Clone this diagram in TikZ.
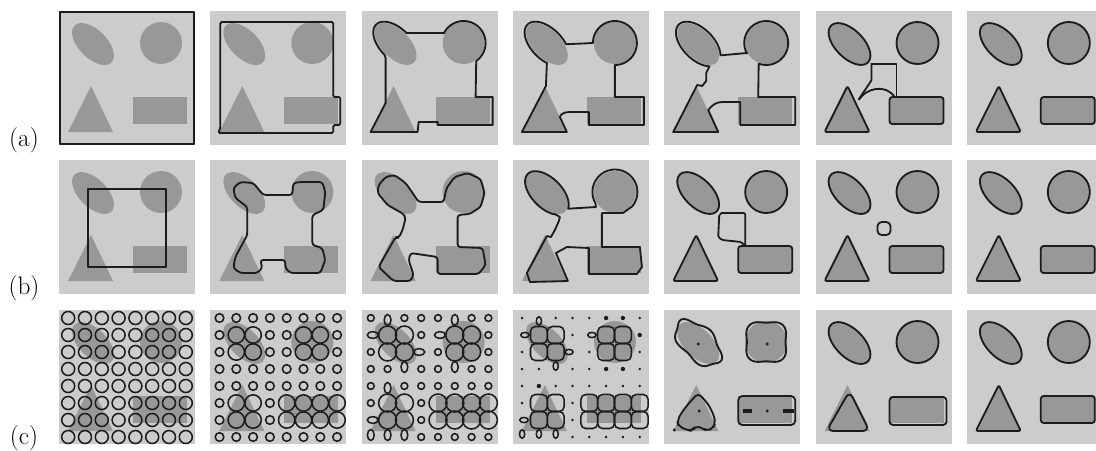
\documentclass[tikz,border=0pt]{standalone}
\usepackage{tikz}
\usetikzlibrary{positioning}

\definecolor{panelgray}{RGB}{204,204,204}
\definecolor{shapegray}{RGB}{152,152,152}
\definecolor{inkgray}{RGB}{28,28,28}

% arcs of the ellipse and the disc, panel coordinates (y down)
\newcommand{\toell}[3]{-- plot[domain=#1:#2, samples=40, variable=\vv] ({34+0.7071*((26+#3)*cos(\vv)+(14+#3)*sin(\vv))},{33+0.7071*((26+#3)*cos(\vv)-(14+#3)*sin(\vv))})}
\newcommand{\tocir}[3]{-- plot[domain=#1:#2, samples=40, variable=\vv] ({102+(21+#3)*cos(\vv)},{32+(21+#3)*sin(\vv)})}
\newcommand{\ellloop}{plot[domain=0:360, samples=72, variable=\vv] ({34+0.7071*(26*cos(\vv)+14*sin(\vv))},{33+0.7071*(26*cos(\vv)-14*sin(\vv))}) -- cycle}

\newcommand{\objects}{%
  \fill[shapegray] \ellloop;
  \fill[shapegray] (102,32) circle[radius=21];
  \fill[shapegray] (32,75) -- (54,121) -- (9,121) -- cycle;
  \fill[shapegray] (74,86) rectangle (128,113);
}
\newcommand{\outlines}{%
  \draw[zeroset] \ellloop;
  \draw[zeroset] (102,32) circle[radius=21];
  \draw[zeroset, rounded corners=1.5pt] (32,75) -- (54,121) -- (9,121) -- cycle;
  \draw[zeroset, rounded corners=2pt] (74,86) rectangle (128,113);
}
% grid points that lie on an object
\newcommand{\setins}[2]{\pgfmathtruncatemacro{\ins}{(((#1==1)||(#1==2)||(#1==5)||(#1==6))&&((#2==1)||(#2==2)))||(((#1==1)||(#1==2))&&((#2==5)||(#2==6)))||((#1>=4)&&((#2==5)||(#2==6)))}}

\begin{document}
\begin{tikzpicture}[x=0.025cm, y=-0.025cm,
  zeroset/.style={draw=inkgray, line width=1.3pt, line join=round},
  ring/.style={draw=inkgray, line width=1.1pt},
  dotpt/.style={fill=inkgray},
  tag/.style={font=\fontsize{18}{20}\selectfont, inner sep=0pt}]
\useasboundingbox (0,0) rectangle (1096,450);
\clip (0,0) rectangle (1096,450);

% panels with the four objects
\foreach \c in {0,...,6}
  \foreach \y in {11,160,310} {
    \begin{scope}[shift={({59+151.3*\c},\y)}]
      \fill[panelgray] (0,0) rectangle (136,134);
      \objects
    \end{scope}
  }

\node[tag] (la) at (24,140) {(a)};
\node[tag] (lb) at (24,288) {(b)};
\node[tag] (lc) at (24,438) {(c)};

% row (a)
\begin{scope}[shift={(59,11)}]
  \draw[zeroset] (1,1) rectangle (135,133);
\end{scope}
\begin{scope}[shift={(210.3,11)}]
  \draw[zeroset, rounded corners=1pt] (10,11) -- (123,11) -- (123,86) -- (130,86) -- (130,114) -- (123,114) -- (123,122) -- (8,122) -- (10,117) -- cycle;
\end{scope}
\begin{scope}[shift={(361.6,11)}]
  \draw[zeroset] (24,92) -- (24,47) \toell{270}{90}{1.5} -- (83,22) \tocir{208}{415}{1} -- (114,86) -- (131,86) -- (131,114) -- (76,114) -- (76,111) -- (57,111) -- (56,121) -- (9,121) -- cycle;
\end{scope}
\begin{scope}[shift={(512.9,11)}]
  \draw[zeroset] (33,75) -- (34,52) \toell{300}{60}{1.5} -- (80,32) \tocir{180}{450}{1} -- (102,86) -- (131,86) -- (131,114) -- (76,114) -- (76,101) -- (57,101) .. controls (51,101) and (48,103) .. (47,106) -- (54,121) -- (9,121) -- cycle;
\end{scope}
\begin{scope}[shift={(664.2,11)}]
  \draw[zeroset] (44,99) -- (54,121) -- (9,121) -- (33,74) -- (38,75) -- (42,70) -- (42,62) -- (45,56) \toell{330}{30}{1.5} -- (83,42) \tocir{152}{470}{1} -- (94,86) -- (131,86) -- (131,114) -- (76,114) -- (76,91) -- (58,91) .. controls (52,91) and (48,94) .. (44,99) -- cycle;
\end{scope}
\begin{scope}[shift={(815.5,11)}]
  \outlines
  \draw[zeroset] (56,52) -- (56,69) .. controls (52,76) and (47,82) .. (43,89);
  \draw[zeroset] (56,53) -- (81,53) -- (81,86);
  \draw[zeroset] (44,88) .. controls (50,78) and (70,72) .. (79,86);
\end{scope}
\begin{scope}[shift={(966.8,11)}]
  \outlines
\end{scope}

% row (b)
\begin{scope}[shift={(59,160)}]
  \draw[zeroset] (29,29) rectangle (107,107);
\end{scope}
\begin{scope}[shift={(210.3,160)}]
  \draw[zeroset, rounded corners=2pt] (37,47) -- (25,38) -- (23,28) -- (30,22) -- (43,23) -- (53,35) -- (82,35) -- (83,23) -- (90,22) -- (112,22) -- (115,32) -- (113,50) -- (102,55) -- (102,85) -- (112,88) -- (115,100) -- (110,113) -- (80,113) -- (75,108) -- (75,100) -- (50,100) -- (52,108) -- (47,113) -- (30,113) -- (23,108) -- (25,97) -- (37,75) -- cycle;
\end{scope}
\begin{scope}[shift={(361.6,160)}]
  \draw[zeroset, rounded corners=2pt] (16,33) -- (17,25) -- (24,17) -- (33,15) -- (44,23) -- (51,33) -- (57,42) -- (82,42) -- (85,28) -- (93,17) -- (106,13) -- (119,19) -- (123,33) -- (119,47) -- (108,54) -- (96,55) -- (96,87) -- (121,88) -- (124,105) -- (117,114) -- (76,114) -- (76,97) -- (49,93) -- (47,100) -- (52,115) -- (49,121) -- (32,121) -- (17,107) -- (34,77) -- (37,78) -- (41,70) -- (44,58) -- (42,54) -- (26,45) -- cycle;
\end{scope}
\begin{scope}[shift={(512.9,160)}]
  \draw[zeroset] (42,54) \toell{320}{15}{1} -- (83,47) \tocir{150}{400}{1.5} -- (110,53) -- (89,53) -- (89,87) -- (127,87) -- (129,107) -- (124,114) -- (76,114) -- (76,88) -- (54,87) -- (43,93) -- (55,121) -- (17,122) -- (14,113) -- (34,76) -- (38,77) -- (42,70) -- (46,61) -- (47,57) -- cycle;
\end{scope}
\begin{scope}[shift={(664.2,160)}]
  \outlines
  \draw[zeroset, rounded corners=1pt] (56,55) -- (56,53) -- (81,53) -- (81,86) -- (77,82) -- (58,80) -- (54,77) -- (55,55);
\end{scope}
\begin{scope}[shift={(815.5,160)}]
  \outlines
  \draw[zeroset, rounded corners=3pt] (62,62) rectangle (75,75);
\end{scope}
\begin{scope}[shift={(966.8,160)}]
  \outlines
\end{scope}

% row (c)
\foreach \p in {0-1,1-0,3-2,2-3,4-1,5-0,5-3,1-4,0-6,0-7,1-7,2-7}
  {\expandafter\gdef\csname tearc-\p\endcsname{}}
\foreach \p in {0-1,1-0,3-2,2-3,4-1,0-6,0-7,1-7,2-7}
  {\expandafter\gdef\csname teard-\p\endcsname{}}
\begin{scope}[shift={(59,310)}]
  \foreach \i in {0,...,7} \foreach \j in {0,...,7}
    \draw[ring] ({9.2+16.8*\i},{8+17*\j}) circle[radius=6.5];
\end{scope}
\begin{scope}[shift={(210.3,310)}]
  \foreach \i in {0,...,7} \foreach \j in {0,...,7} {
    \setins{\i}{\j}
    \ifnum\ins=1 \draw[ring] ({9.2+16.8*\i},{8+17*\j}) circle[radius=8.2];
    \else \draw[ring] ({9.2+16.8*\i},{8+17*\j}) circle[radius=4.3]; \fi
  }
\end{scope}
\begin{scope}[shift={(361.6,310)}]
  \foreach \i in {0,...,7} \foreach \j in {0,...,7} {
    \setins{\i}{\j}
    \ifnum\ins=1 \draw[ring] ({9.2+16.8*\i},{8+17*\j}) circle[radius=9];
    \else \ifcsname tearc-\i-\j\endcsname \else
      \draw[ring] ({9.2+16.8*\i},{8+17*\j}) circle[radius=3.4]; \fi \fi
  }
  \foreach \x/\y in {11.2/25,57.6/42,78.4/25,11.2/110}
    \draw[ring] (\x,\y) ellipse[x radius=5.5, y radius=3.4];
  \foreach \x/\y in {26/10,42.8/57,93.2/10,93.2/57,26/78,9.2/125,26/125,42.8/125}
    \draw[ring] (\x,\y) ellipse[x radius=3.4, y radius=5.5];
\end{scope}
\begin{scope}[shift={(512.9,310)}]
  \foreach \i in {0,...,7} \foreach \j in {0,...,7} {
    \setins{\i}{\j}
    \ifnum\ins=1 \draw[ring, rounded corners=3.5pt] ({9.2+16.8*\i-8.4},{8+17*\j-8.5}) rectangle ++(16.8,17);
    \else \ifcsname teard-\i-\j\endcsname \else
      \fill[dotpt] ({9.2+16.8*\i},{8+17*\j}) circle[radius=1.4]; \fi \fi
  }
  \foreach \x/\y in {12/25,56/42,79/25,11/110}
    \draw[ring] (\x,\y) ellipse[x radius=4.2, y radius=2.6];
  \foreach \x/\y in {26/11,42.8/56,9.2/124,26/124,42.8/124}
    \draw[ring] (\x,\y) ellipse[x radius=2.6, y radius=4.2];
  \foreach \x/\y in {93.2/8,110/8,93.2/59,110/59,26/76,126.8/25}
    \fill[dotpt] (\x,\y) circle[radius=2.2];
\end{scope}
\begin{scope}[shift={(664.2,310)}]
  \draw[zeroset] plot[domain=0:360, samples=90, smooth, variable=\vv] ({34+0.7071*((28+1.6*sin(5*\vv))*cos(\vv)+(16+1.6*sin(5*\vv))*sin(\vv))},{33+0.7071*((28+1.6*sin(5*\vv))*cos(\vv)-(16+1.6*sin(5*\vv))*sin(\vv))}) -- cycle;
  \draw[zeroset] plot[domain=0:360, samples=90, smooth, variable=\vv] ({102+(21.5-2.2*cos(4*\vv))*cos(\vv)},{32+(21.5-2.2*cos(4*\vv))*sin(\vv)}) -- cycle;
  \draw[zeroset, rounded corners=3pt] (34,83) -- (44,94) -- (50,106) -- (51,113) -- (49,118) -- (43,121) -- (38,118) -- (31,116) -- (28,121) -- (23,120) -- (14,116) -- (13,111) -- (17,103) -- (24,94) -- cycle;
  \draw[zeroset, rounded corners=3pt] (74,86) rectangle (131,115);
  \draw[zeroset, line width=2.4pt] (79,101) -- (88,101) (119,101) -- (130,101);
  \foreach \x/\y in {34/34,103/34,35/101,103/101,10/120}
    \fill[dotpt] (\x,\y) circle[radius=1.6];
\end{scope}
\begin{scope}[shift={(815.5,310)}]
  \draw[zeroset] \ellloop;
  \draw[zeroset] (102,32) circle[radius=21];
  \draw[zeroset, rounded corners=5pt] (34,81) -- (54,121) -- (11,121) -- cycle;
  \draw[zeroset, rounded corners=2.5pt] (74,87) rectangle (131,115);
\end{scope}
\begin{scope}[shift={(966.8,310)}]
  \outlines
\end{scope}
\end{tikzpicture}
\end{document}
